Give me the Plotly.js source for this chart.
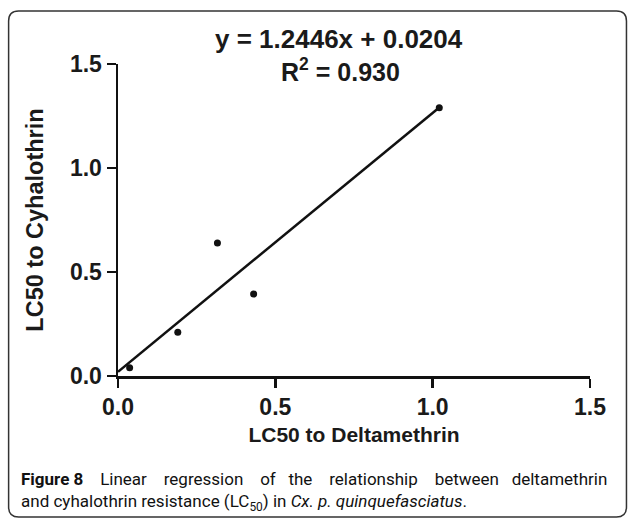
<!DOCTYPE html>
<html>
<head>
<meta charset="utf-8">
<script src="https://cdn.plot.ly/plotly-3.0.1.min.js"></script>
<style>html,body{margin:0;padding:0;background:#fff;}#chart{width:629px;height:519px;}</style>
</head>
<body>
<div id="chart"></div>
<script>
// Data
const deltamethrinLC50 = [0.037, 0.19, 0.316, 0.431, 1.021];
const cyhalothrinLC50 = [0.04, 0.21, 0.64, 0.394, 1.29];
const fitSlope = 1.2446;
const fitIntercept = 0.0204;
const fitR2 = 0.930;
const tickVals = [0, 0.5, 1.0, 1.5];
const tickText = ['0.0', '0.5', '1.0', '1.5'];
const xTitle = 'LC50 to Deltamethrin';
const yTitle = 'LC50 to Cyhalothrin';
const captionLine1 = ['<b>Figure 8</b>', 'Linear', 'regression', 'of', 'the', 'relationship', 'between', 'deltamethrin'];
const captionLine2 = 'and cyhalothrin resistance (LC<sub>50</sub>) in <i>Cx. p. quinquefasciatus</i>.';

const fitX = [0, Math.max(...deltamethrinLC50)];
const fitY = fitX.map(v => fitSlope * v + fitIntercept);

// pixel helpers for paper-space layout
const W = 629, H = 519;
const L = 117.5, R = 39, T = 64, B = 143;
const pw = W - L - R, ph = H - T - B;
const px = X => (X - L) / pw;
const py = Y => (H - B - Y) / ph;

function roundRect(x0, y0, x1, y1, r) {
  const f = (X, Y) => px(X).toFixed(5) + ',' + py(Y).toFixed(5);
  return 'M' + f(x0 + r, y0) + ' L' + f(x1 - r, y0) + ' Q' + f(x1, y0) + ' ' + f(x1, y0 + r) +
    ' L' + f(x1, y1 - r) + ' Q' + f(x1, y1) + ' ' + f(x1 - r, y1) +
    ' L' + f(x0 + r, y1) + ' Q' + f(x0, y1) + ' ' + f(x0, y1 - r) +
    ' L' + f(x0, y0 + r) + ' Q' + f(x0, y0) + ' ' + f(x0 + r, y0) + ' Z';
}

// justify caption line 1 with non-breaking spaces
const gapCounts = [4, 4, 4, 3, 4, 4, 3];
const justified = captionLine1.reduce((acc, w, i) =>
  i === 0 ? w : acc + '\u00a0'.repeat(gapCounts[i - 1]) + w, '');

const bold = 'Liberation Sans, Arial, sans-serif';
const txt = '#1a1a1a';
const capFont = {family: 'Roboto, sans-serif', size: 17, color: '#111'};

const traces = [
  {
    x: fitX, y: fitY, mode: 'lines', type: 'scatter',
    line: {color: '#111', width: 2.5}, cliponaxis: false, hoverinfo: 'skip', showlegend: false
  },
  {
    x: deltamethrinLC50, y: cyhalothrinLC50, mode: 'markers', type: 'scatter',
    marker: {color: '#111', size: 7}, cliponaxis: false, showlegend: false
  }
];

const layout = {
  width: W, height: H,
  margin: {l: L, r: R, t: T, b: B},
  paper_bgcolor: '#fff', plot_bgcolor: '#fff',
  showlegend: false,
  font: {family: bold, color: txt},
  xaxis: {
    range: [0, 1.5], tickvals: tickVals, ticktext: tickText,
    showgrid: false, zeroline: false, showline: true, linecolor: '#111', linewidth: 2.5,
    ticks: 'outside', ticklen: 9, tickwidth: 2.5, tickcolor: '#111',
    tickfont: {family: bold, size: 23, color: txt, weight: 'bold'},
    title: {text: '<b>' + xTitle + '</b>', font: {family: bold, size: 21, color: txt}, standoff: 8}
  },
  yaxis: {
    range: [0, 1.5], tickvals: tickVals, ticktext: tickText,
    showgrid: false, zeroline: false, showline: true, linecolor: '#111', linewidth: 2.5,
    ticks: 'outside', ticklen: 9, tickwidth: 2.5, tickcolor: '#111',
    tickfont: {family: bold, size: 23, color: txt, weight: 'bold'},
    title: {text: '<b>' + yTitle + '</b>', font: {family: bold, size: 23.5, color: txt}, standoff: 20}
  },
  annotations: [
    {xref: 'paper', yref: 'paper', x: px(339), y: py(39), xanchor: 'center', yanchor: 'middle',
     showarrow: false, text: '<b>y = ' + fitSlope + 'x + ' + fitIntercept + '</b>',
     font: {family: bold, size: 26, color: txt}},
    {xref: 'paper', yref: 'paper', x: px(340), y: py(70), xanchor: 'center', yanchor: 'middle',
     showarrow: false, text: '<b>R<sup>2</sup> = ' + fitR2.toFixed(3) + '</b>',
     font: {family: bold, size: 25, color: txt}},
    {xref: 'paper', yref: 'paper', x: px(18), y: py(479), xanchor: 'left', yanchor: 'middle',
     showarrow: false, text: justified,
     font: capFont},
    {xref: 'paper', yref: 'paper', x: px(18), y: py(503), xanchor: 'left', yanchor: 'middle',
     showarrow: false, text: captionLine2,
     font: capFont}
  ],
  shapes: [
    {type: 'path', xref: 'paper', yref: 'paper', path: roundRect(8, 11, 626.5, 517, 10),
     line: {color: '#333', width: 1.5}, fillcolor: 'rgba(0,0,0,0)', layer: 'below'}
  ]
};

Plotly.newPlot('chart', traces, layout, {displayModeBar: false, staticPlot: true});
</script>
</body>
</html>
